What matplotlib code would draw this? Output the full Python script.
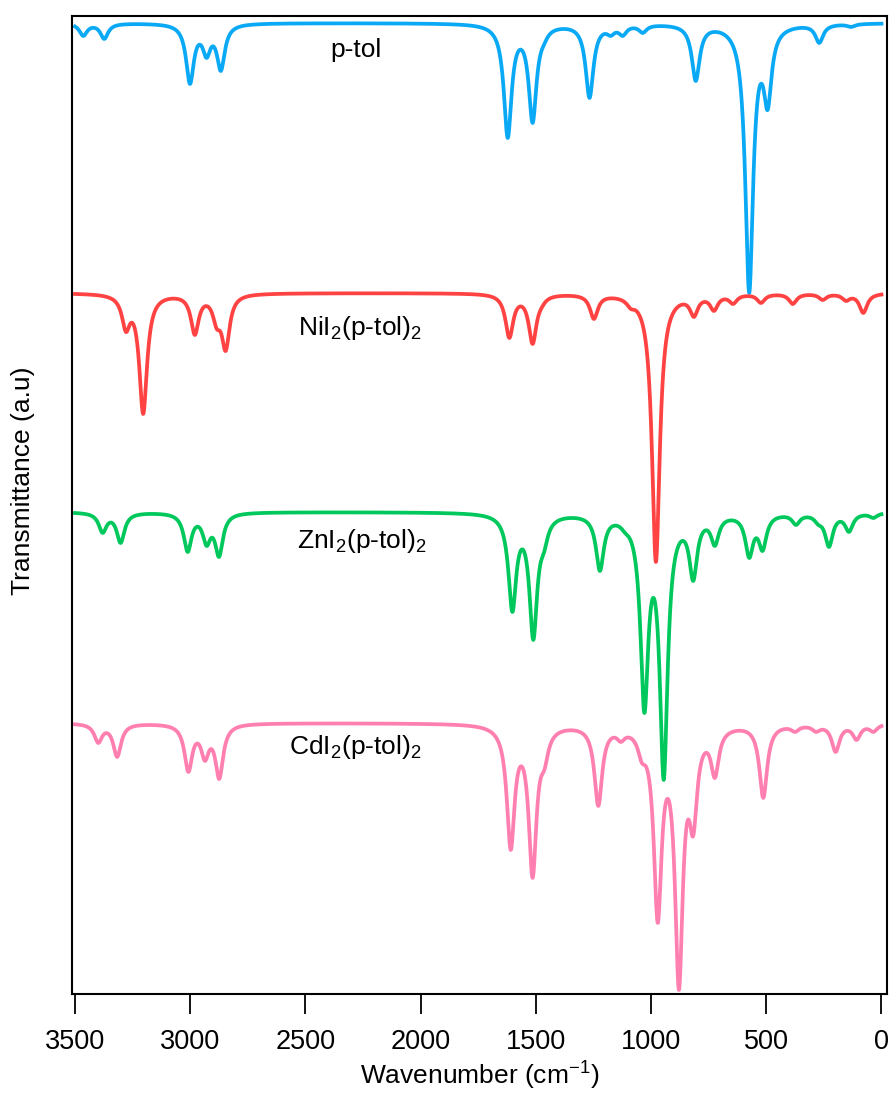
import numpy as np
import matplotlib
matplotlib.use("Agg")
import matplotlib.pyplot as plt

plt.rcParams['font.family'] = ['Liberation Sans', 'DejaVu Sans']
plt.rcParams['mathtext.fontset'] = 'custom'
plt.rcParams['mathtext.rm'] = 'Liberation Sans'
plt.rcParams['mathtext.it'] = 'Liberation Sans:italic'

# peak positions (cm-1) and band depths, per compound
ptol_pos = [3464, 3373, 3001, 2929, 2867, 1622, 1514, 1465, 1267, 1175, 1123, 1036,
            806, 688, 574, 494, 270, 132]
ptol_depth = [13, 16, 61, 35, 48, 115, 100, 22, 75, 13, 13, 10,
              58, 11, 270, 87, 20, 4]

ni_pos = [3279, 3204, 2980, 2885, 2846, 1615, 1514, 1475, 1248, 1088, 979,
          814, 727, 644, 523, 385, 255, 154, 79]
ni_depth = [39, 121, 42, 36, 58, 45, 51, 15, 26, 16, 269,
            24, 18, 11, 10, 11, 7, 8, 20]

zn_pos = [3380, 3302, 3011, 2929, 2875, 1602, 1511, 1465, 1222, 1113, 1029, 945,
          817, 723, 574, 516, 371, 274, 228, 141, 35]
zn_depth = [21, 31, 40, 34, 45, 100, 128, 41, 59, 21, 201, 268,
            69, 34, 46, 39, 13, 13, 35, 20, 6]

cd_pos = [3399, 3317, 3008, 2936, 2874, 1609, 1514, 1463, 1229, 1131, 1040, 971,
          879, 817, 723, 513, 375, 284, 199, 108, 35]
cd_depth = [20, 34, 49, 38, 56, 127, 155, 47, 83, 19, 40, 200,
            267, 113, 55, 75, 9, 9, 29, 17, 9]

names = ["p-tol", r"NiI$_\mathregular{2}$(p-tol)$_\mathregular{2}$",
         r"ZnI$_\mathregular{2}$(p-tol)$_\mathregular{2}$",
         r"CdI$_\mathregular{2}$(p-tol)$_\mathregular{2}$"]
baselines = [971, 701, 482, 271]
colors = ["#0AA9F5", "#FF4242", "#00C85C", "#FF80B0"]
label_x = [2393, 2533, 2537, 2572]
label_y = [937, 659, 446, 240]

HWHM = 20.5


def lorentz(x, x0):
    return 1.0 / (1.0 + ((x - x0) / HWHM) ** 2)


def spectrum(x, pos, depth, base):
    pos = np.asarray(pos, float)
    depth = np.asarray(depth, float)
    # band strengths so the summed curve reaches the read depths at each band
    m = lorentz(pos[:, None], pos[None, :])
    amp = np.linalg.solve(m, depth)
    return base - (amp[None, :] * lorentz(x[:, None], pos[None, :])).sum(axis=1)


fig = plt.figure(figsize=(8.92, 10.93), dpi=100)
ax = fig.add_axes([0.0807, 0.0906, 0.9137, 0.8948])

wn = np.linspace(3500, 0, 3501)
data = [(ptol_pos, ptol_depth), (ni_pos, ni_depth), (zn_pos, zn_depth), (cd_pos, cd_depth)]
for (pos, depth), base, c, name, lx, ly in zip(data, baselines, colors, names, label_x, label_y):
    ax.plot(wn, spectrum(wn, pos, depth, base), color=c, lw=2.7)
    ax.text(lx, ly, name, fontsize=19, ha='left', va='baseline')

ax.set_xlim(3513, -24)
ax.set_ylim(0, 978)
ax.set_xticks([3500, 3000, 2500, 2000, 1500, 1000, 500, 0])
ax.set_yticks([])
ax.tick_params(axis='x', direction='out', length=14.5, width=1.3, pad=11, labelsize=19.5)
for s in ax.spines.values():
    s.set_linewidth(1.5)

ax.set_xlabel(r"Wavenumber (cm$^\mathregular{-1}$)", fontsize=19, labelpad=3)
ax.set_ylabel("Transmittance (a.u)", fontsize=19)
ax.yaxis.set_label_coords(-0.045, 0.525)

fig.savefig("out.png", dpi=100)
